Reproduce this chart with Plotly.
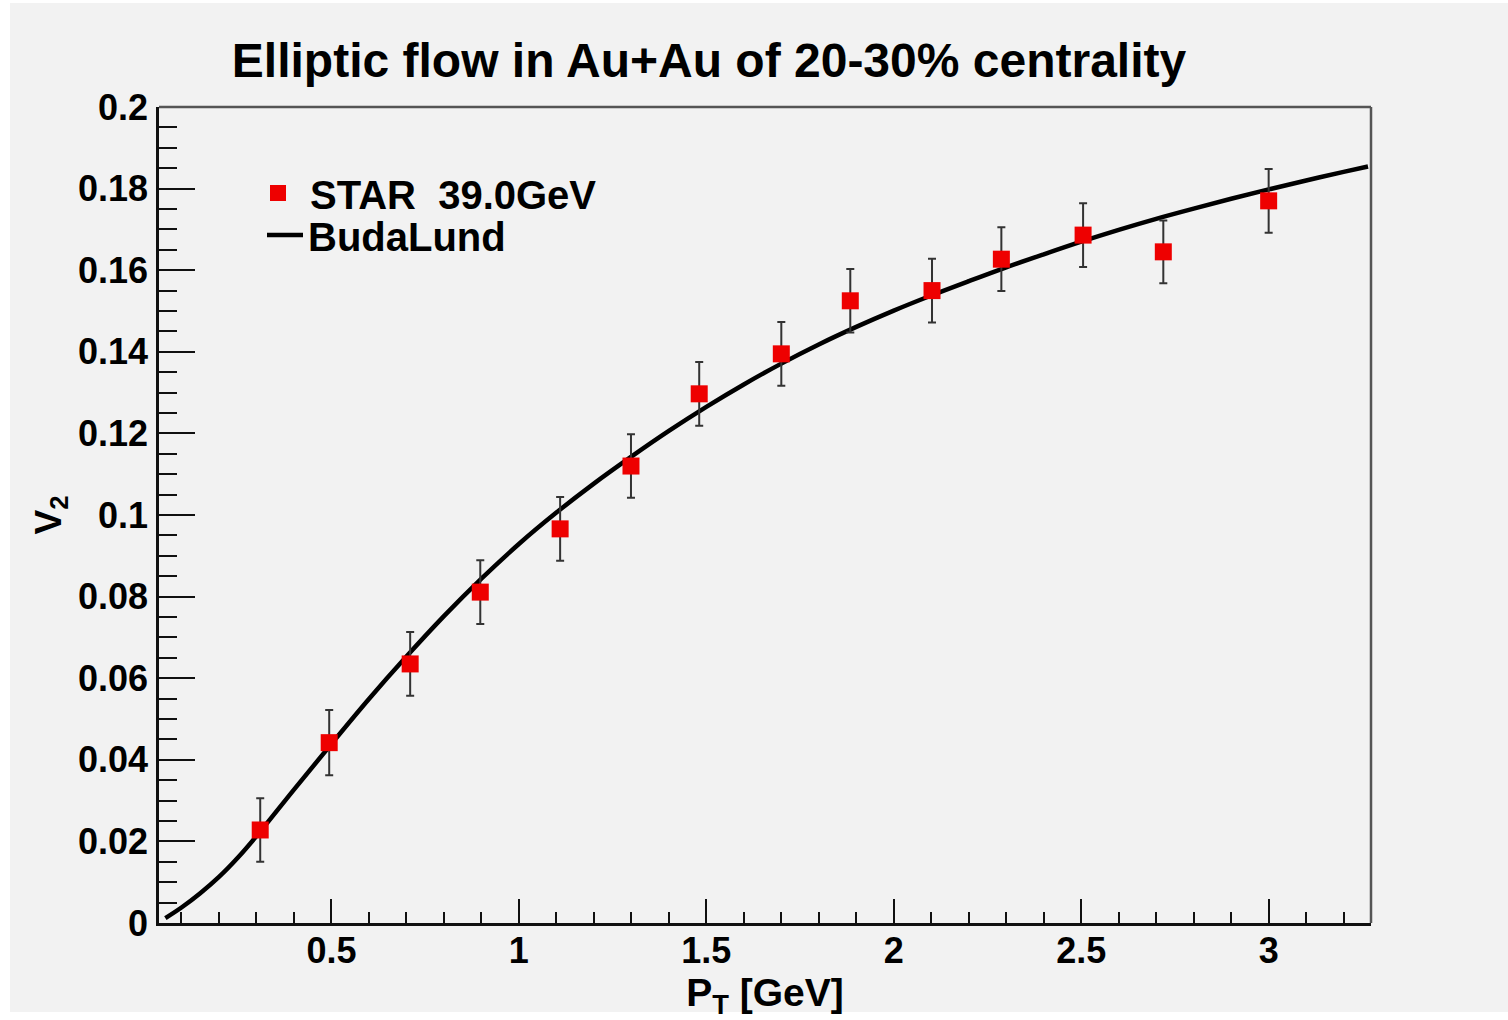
import plotly.graph_objects as go

# ---- data ----
pt_star = [0.31, 0.494, 0.71, 0.897, 1.11, 1.299, 1.481, 1.70, 1.884, 2.102, 2.287, 2.505, 2.719, 3.0]
v2_star = [0.0228, 0.0442, 0.0635, 0.0811, 0.0966, 0.1120, 0.1297, 0.1395, 0.1525, 0.1550, 0.1627, 0.1686, 0.1645, 0.1770]
v2_err = [0.0078, 0.0080, 0.0078, 0.0078, 0.0078, 0.0078, 0.0078, 0.0078, 0.0078, 0.0078, 0.0078, 0.0078, 0.0077, 0.0078]

pt_bl = [0.057, 0.1, 0.15, 0.2, 0.25, 0.3, 0.4, 0.5, 0.6, 0.7, 0.8, 0.9, 1.0, 1.1, 1.2, 1.3, 1.4, 1.5,
         1.6, 1.7, 1.8, 1.9, 2.0, 2.1, 2.2, 2.3, 2.4, 2.5, 2.6, 2.7, 2.8, 2.9, 3.0, 3.1, 3.2, 3.265]
v2_bl = [0.0012, 0.0038, 0.0073, 0.0113, 0.0160, 0.0213, 0.0327, 0.0439, 0.0549, 0.0653, 0.0752,
         0.0844, 0.0929, 0.1006, 0.1077, 0.1143, 0.1206, 0.1265, 0.1320, 0.1371, 0.1418, 0.1461,
         0.1501, 0.1538, 0.1573, 0.1607, 0.1639, 0.1670, 0.1699, 0.1726, 0.1751, 0.1775, 0.1798,
         0.1820, 0.1841, 0.1854]

x_tickvals = [0.5, 1, 1.5, 2, 2.5, 3]
x_ticktext = ["0.5", "1", "1.5", "2", "2.5", "3"]
y_tickvals = [0, 0.02, 0.04, 0.06, 0.08, 0.1, 0.12, 0.14, 0.16, 0.18, 0.2]
y_ticktext = ["0", "0.02", "0.04", "0.06", "0.08", "0.1", "0.12", "0.14", "0.16", "0.18", "0.2"]

title_text = "Elliptic flow in Au+Au of 20-30% centrality"
name_star = "STAR\u00a0 39.0GeV"
name_bl = "BudaLund"

FONT = "Liberation Sans"
BG = "#f2f2f2"
W, H = 1508, 1020
ML, MR, MT, MB = 159, 137, 107, 97
pw, ph = W - ML - MR, H - MT - MB

def px_to_paper_x(px):
    return (px - ML) / pw

def px_to_paper_y(py):
    return (H - MB - py) / ph

fig = go.Figure()

fig.add_trace(go.Scatter(
    x=pt_bl, y=v2_bl, mode="lines", name=name_bl,
    line=dict(color="black", width=4.5, shape="spline", smoothing=1.0),
    legend="legend2",
))

fig.add_trace(go.Scatter(
    x=pt_star, y=v2_star, mode="markers", name=name_star,
    marker=dict(symbol="square", size=17, color="#ee0000", line=dict(width=0)),
    error_y=dict(type="data", array=v2_err, visible=True, color="#333333", thickness=2, width=4),
    legend="legend",
))

tickfont = dict(family=FONT, size=36, color="black", weight="bold")
legfont = dict(family=FONT, size=40, color="black", weight="bold")

fig.update_layout(
    width=W, height=H,
    margin=dict(l=ML, r=MR, t=MT, b=MB, pad=0),
    paper_bgcolor="white",
    plot_bgcolor=BG,
    title=dict(text=title_text, x=709 / W, xanchor="center", y=1 - 60 / H, yanchor="middle",
               font=dict(family=FONT, size=48, color="black", weight="bold")),
    xaxis=dict(
        range=[0.04, 3.273], showgrid=False, zeroline=False,
        showline=True, linecolor="#111111", linewidth=2.5, mirror=False,
        tickmode="array", tickvals=x_tickvals, ticktext=x_ticktext,
        ticks="inside", ticklen=24, tickwidth=2, tickcolor="#111111",
        minor=dict(ticks="inside", ticklen=11, tickwidth=2, tickcolor="#111111", dtick=0.1, tick0=0, showgrid=False),
        tickfont=tickfont, ticklabelstandoff=-6,
        title=dict(text="P<sub>T</sub> [GeV]", font=dict(family=FONT, size=39, color="black", weight="bold"), standoff=0),
    ),
    yaxis=dict(
        range=[0, 0.2], showgrid=False, zeroline=False,
        showline=True, linecolor="#111111", linewidth=2.5, mirror=False,
        tickmode="array", tickvals=y_tickvals, ticktext=y_ticktext,
        ticks="inside", ticklen=36, tickwidth=2, tickcolor="#111111",
        minor=dict(ticks="inside", ticklen=18, tickwidth=2, tickcolor="#111111", dtick=0.005, tick0=0, showgrid=False),
        tickfont=tickfont, ticklabelstandoff=1,
        title=dict(text="V<sub>2</sub>", font=dict(family=FONT, size=37, color="black", weight="bold"), standoff=6),
    ),
    legend=dict(x=px_to_paper_x(246), xanchor="left", y=px_to_paper_y(193), yanchor="middle",
                bgcolor="rgba(0,0,0,0)", borderwidth=0, itemwidth=54, font=legfont),
    legend2=dict(x=px_to_paper_x(262), xanchor="left", y=px_to_paper_y(235), yanchor="middle",
                 bgcolor="rgba(0,0,0,0)", borderwidth=0, itemwidth=36, font=legfont),
    showlegend=True,
    shapes=[
        dict(type="rect", xref="paper", yref="paper", layer="below",
             x0=px_to_paper_x(10), x1=px_to_paper_x(1508), y0=px_to_paper_y(1012), y1=px_to_paper_y(3),
             fillcolor=BG, line=dict(width=0)),
        dict(type="line", xref="paper", yref="paper", layer="above",
             x0=0, x1=1, y0=1, y1=1, line=dict(color="#555555", width=2.5)),
        dict(type="line", xref="paper", yref="paper", layer="above",
             x0=1, x1=1, y0=0, y1=1, line=dict(color="#555555", width=2.5)),
    ],
)

fig.write_html("out.html")
